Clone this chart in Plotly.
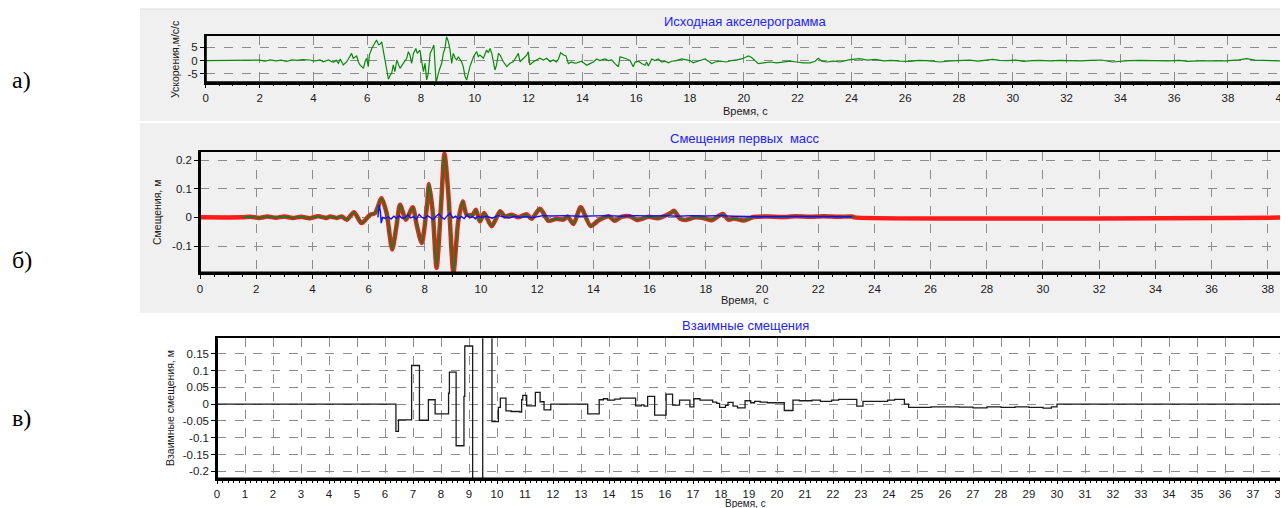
import plotly.graph_objects as go

# the page body adds an 8 px margin: the figure is drawn 8 px right/down of the window corner
PAGE_OFFSET = 8
W, H = 1288 - PAGE_OFFSET, 508 - PAGE_OFFSET

# ---------------- data ----------------
# a) accelerogram: (time, s ; acceleration, m/s/s)
acc_points = [
    (0.0, 0.0), (0.5, 0.05), (1.0, 0.0), (1.5, -0.05), (1.8, 0.1), (2.0, 0.2), (2.2, -0.2), (2.4, 0.3),
    (2.6, -0.1), (2.8, 0.2), (3.0, -0.3), (3.2, 0.3), (3.4, 0.1), (3.6, 0.4), (3.87, 0.25), (4.0, -0.1),
    (4.12, 0.0), (4.25, 0.3), (4.37, -0.4), (4.56, 0.25), (4.65, -0.2), (4.74, -0.6), (4.85, 0.1),
    (4.93, -1.0), (5.0, 0.6), (5.11, -1.6), (5.24, -0.4), (5.36, 1.5), (5.42, 2.75), (5.48, 0.9),
    (5.61, 1.75), (5.67, -0.4), (5.73, -1.6), (5.86, -2.9), (5.92, -0.4), (5.98, 0.9), (6.04, -2.25),
    (6.08, 2.1), (6.17, 4.6), (6.29, 6.75), (6.35, 7.75), (6.42, 6.0), (6.48, 6.25), (6.54, 7.1),
    (6.60, 4.0), (6.70, -1.0), (6.79, -7.0), (6.85, -5.5), (6.91, -4.75), (6.97, -1.6), (7.03, -4.1),
    (7.10, 0.25), (7.16, -1.6), (7.22, -2.9), (7.34, -1.0), (7.47, 0.9), (7.53, 3.4), (7.59, 2.1),
    (7.65, -1.0), (7.72, 2.75), (7.81, 4.6), (7.86, 2.75), (7.96, 4.0), (8.03, -1.0), (8.09, -4.1),
    (8.15, -1.0), (8.21, -7.25), (8.27, -4.75), (8.34, 2.75), (8.40, 4.0), (8.48, 5.9), (8.56, -8.25),
    (8.61, -6.0), (8.68, -3.5), (8.77, -1.0), (8.83, 2.75), (8.89, 4.6), (8.95, 9.0), (9.02, 7.1),
    (9.08, 4.0), (9.14, -1.0), (9.20, 2.75), (9.27, 1.0), (9.33, 0.25), (9.39, 1.5), (9.51, -0.4),
    (9.57, -2.25), (9.64, -6.0), (9.70, -7.25), (9.76, -4.75), (9.82, -2.25), (9.95, 1.5), (10.01, 2.75),
    (10.07, 3.4), (10.13, 1.5), (10.19, 2.1), (10.32, 0.9), (10.44, 4.0), (10.50, 3.0), (10.57, 4.6),
    (10.63, 2.75), (10.69, -1.0), (10.75, -3.5), (10.81, -1.6), (10.88, 2.75), (10.94, 2.1),
    (11.06, -0.4), (11.19, -2.25), (11.31, -1.0), (11.43, -0.4), (11.56, 1.5), (11.62, 2.75),
    (11.68, -0.4), (11.80, 0.9), (11.93, 2.1), (11.99, 3.4), (12.05, -1.6), (12.18, -0.4), (12.30, 0.25),
    (12.42, 0.9), (12.55, 0.25), (12.67, 0.9), (12.80, -0.4), (12.92, 0.3), (13.04, -0.5), (13.11, 0.65),
    (13.19, 3.0), (13.29, 2.2), (13.39, 1.8), (13.48, -1.1), (13.60, -0.5), (13.70, -0.9), (13.79, -0.8),
    (13.97, -0.2), (14.04, -0.8), (14.16, -1.7), (14.28, -1.1), (14.41, -0.5), (14.53, 0.65),
    (14.65, 0.05), (14.75, 0.4), (14.84, 0.65), (14.96, 0.05), (15.09, 0.3), (15.21, -1.1), (15.34, -2.3),
    (15.40, 1.5), (15.52, 1.2), (15.65, 0.65), (15.77, 0.05), (15.89, -2.3), (15.96, -0.5), (16.08, -0.2),
    (16.20, -1.1), (16.33, -1.7), (16.39, -0.5), (16.45, -2.0), (16.58, 0.65), (16.70, 0.05),
    (16.82, 0.65), (16.95, -0.5), (17.07, -0.2), (17.20, -0.8), (17.32, -0.2), (17.50, 0.05),
    (17.69, 0.65), (17.88, 0.4), (18.00, 0.05), (18.12, -0.8), (18.25, -0.2), (18.37, 0.05),
    (18.56, 0.65), (18.68, -0.2), (18.81, -1.1), (18.93, -0.5), (19.12, -0.2), (19.36, -0.5),
    (19.55, 0.05), (19.74, 0.3), (19.92, 0.65), (20.05, 1.2), (20.17, 1.8), (20.29, 1.2), (20.42, 0.05),
    (20.54, -1.1), (20.73, -0.8), (20.97, -0.5), (21.22, -0.8), (21.47, -0.5), (21.72, -0.2),
    (21.97, -0.5), (22.21, -0.8), (22.46, -0.8), (22.65, -0.2), (22.77, 0.9), (22.90, -0.2),
    (23.08, -0.5), (23.33, -0.2), (23.58, -0.5), (23.9, 0.3), (24.3, 0.75), (24.6, 0.2), (24.9, 0.5),
    (25.2, -0.1), (25.5, 0.1), (25.8, -0.2), (26.2, -0.25), (26.5, 0.1), (26.8, 0.0), (27.0, -0.3),
    (27.3, -0.5), (27.7, -0.1), (28.1, 0.0), (28.4, 0.2), (28.7, -0.2), (29.0, 0.1), (29.25, 0.5),
    (29.5, 0.1), (29.8, 0.0), (30.1, 0.2), (30.4, -0.25), (30.7, 0.0), (31.0, 0.1), (31.4, -0.1),
    (31.75, 0.1), (32.1, 0.0), (32.5, -0.1), (32.9, 0.1), (33.3, 0.25), (33.7, -0.5), (34.0, -0.2),
    (34.3, 0.0), (34.7, 0.15), (35.1, 0.1), (35.5, -0.1), (35.8, -0.1), (36.2, 0.1), (36.5, -0.25),
    (36.9, -0.05), (37.2, 0.0), (37.5, 0.1), (37.9, -0.1), (38.4, 0.3), (38.7, 0.75), (39.0, 0.2),
    (39.5, 0.0), (40.0, -0.1),
]

# b) displacements of the first masses (m)
disp_points = [
    (1.5, 0.0), (1.8, 0.002), (2.1, -0.002), (2.4, 0.003), (2.7, -0.001), (3.0, 0.003), (3.3, -0.002),
    (3.6, 0.002), (3.9, -0.003), (4.2, 0.004), (4.5, -0.002), (4.63, 0.003), (4.86, -0.002),
    (5.04, 0.003), (5.22, -0.008), (5.48, 0.018), (5.75, -0.02), (6.05, 0.009), (6.23, 0.015),
    (6.46, 0.067), (6.64, 0.015), (6.84, -0.112), (7.0, -0.025), (7.12, 0.044), (7.33, -0.008),
    (7.57, 0.035), (7.71, -0.025), (7.89, -0.089), (8.07, 0.033), (8.15, 0.116), (8.28, 0.021),
    (8.42, -0.176), (8.58, 0.044), (8.70, 0.223), (8.84, 0.079), (9.02, -0.193), (9.19, -0.014),
    (9.35, 0.055), (9.49, 0.009), (9.70, 0.009), (9.82, 0.027), (9.96, -0.014), (10.11, 0.015),
    (10.38, -0.031), (10.68, 0.021), (10.85, 0.003), (11.09, 0.009), (11.33, 0.0), (11.62, 0.011),
    (11.80, -0.005), (12.1, 0.03), (12.4, -0.012), (12.69, -0.005), (12.93, -0.008), (13.08, 0.003),
    (13.29, -0.023), (13.55, 0.035), (13.9, -0.03), (14.2, -0.009), (14.55, 0.004), (14.75, -0.012),
    (15.0, 0.002), (15.3, 0.004), (15.55, -0.009), (15.97, 0.002), (16.3, -0.003), (16.73, 0.014),
    (16.87, 0.023), (17.08, -0.004), (17.28, -0.009), (17.62, 0.0), (17.9, -0.002), (18.2, -0.01),
    (18.6, 0.012), (18.8, -0.008), (19.0, -0.004), (19.35, -0.011), (19.7, 0.001), (20.2, 0.003),
    (20.7, 0.001), (21.2, 0.004), (21.7, 0.002), (22.2, 0.004), (22.7, 0.002), (23.2, 0.003),
    (23.3, 0.0),
]
red_start, red_end = 0.0, 40.0

blue_points = [
    (6.33, 0.0), (6.38, 0.044), (6.42, 0.02), (6.45, -0.02), (6.5, 0.0), (6.6, -0.004), (6.7, 0.002),
    (6.8, -0.006), (6.9, 0.004), (7.0, -0.003), (7.1, 0.006), (7.2, -0.004), (7.3, 0.0), (7.4, 0.008),
    (7.5, -0.002), (7.6, 0.003), (7.7, -0.006), (7.8, 0.01), (7.9, 0.0), (8.0, -0.004), (8.1, 0.006),
    (8.2, 0.0), (8.3, -0.008), (8.4, 0.004), (8.5, 0.012), (8.6, 0.0), (8.7, -0.006), (8.8, 0.006),
    (8.9, 0.014), (9.0, -0.002), (9.1, 0.004), (9.2, -0.006), (9.3, 0.003), (9.4, -0.004), (9.5, 0.008),
    (9.6, -0.002), (9.7, 0.003), (9.8, -0.005), (9.9, 0.004), (10.0, 0.0), (10.2, 0.004), (10.4, -0.003),
    (10.6, 0.006), (10.8, 0.002), (11.0, -0.002), (11.2, 0.004), (11.4, 0.0), (11.6, 0.003),
    (11.8, -0.001), (12.0, 0.002), (12.2, 0.006), (12.5, 0.005), (13.0, 0.006), (13.5, 0.004),
    (14.0, 0.005), (14.5, 0.006), (15.0, 0.004), (15.5, 0.006), (16.0, 0.005), (16.5, 0.006),
    (17.0, 0.004), (17.5, 0.006), (18.0, 0.005), (18.5, 0.006), (19.0, 0.004), (19.5, 0.003),
    (20.0, 0.002), (21.0, 0.003), (22.0, 0.002), (23.2, 0.002),
]

# c) mutual displacements (m), step function: value holds until next time
mut_points = [
    (0.0, 0.0), (6.39, -0.081), (6.48, -0.047), (6.95, 0.115), (7.23, -0.048), (7.55, 0.013),
    (7.79, -0.029), (8.27, 0.033), (8.30, 0.095), (8.54, -0.124), (8.82, 0.023), (8.85, 0.173),
    (9.13, -0.30), (9.49, 0.30), (9.82, -0.052), (10.05, -0.010), (10.12, 0.018), (10.32, -0.020),
    (10.5, -0.022), (10.82, -0.024), (10.88, 0.013), (10.92, 0.026), (11.06, -0.005), (11.37, 0.035),
    (11.54, 0.007), (11.68, -0.017), (11.92, 0.0), (13.24, -0.029), (13.65, 0.013), (13.8, 0.016),
    (13.95, 0.012), (14.2, 0.015), (14.4, 0.018), (14.95, -0.005), (15.15, -0.002), (15.25, -0.006),
    (15.38, 0.023), (15.63, -0.033), (16.04, 0.030), (16.27, -0.003), (16.52, 0.012), (16.89, -0.008),
    (17.03, 0.016), (17.25, 0.012), (17.7, 0.006), (17.85, 0.002), (17.95, -0.010), (18.16, -0.004),
    (18.25, 0.005), (18.43, -0.006), (18.59, -0.011), (18.86, 0.010), (19.06, 0.004), (19.2, 0.008),
    (19.4, 0.006), (19.65, 0.004), (20.26, -0.019), (20.57, 0.012), (20.8, 0.010), (21.25, 0.012),
    (21.55, 0.008), (21.95, 0.012), (22.2, 0.014), (22.85, -0.006), (23.07, 0.008), (23.95, 0.012),
    (24.2, 0.014), (24.55, 0.0), (24.7, -0.010), (25.5, -0.008), (26.5, -0.009), (27.0, -0.011),
    (27.5, -0.008), (28.0, -0.010), (28.5, -0.008), (29.0, -0.010), (29.5, -0.012), (29.8, -0.008),
    (30.0, 0.0), (40.0, 0.0),
]

acc_ticks = [-5, 0, 5]
acc_ticktext = ["-5", "0", "5"]
disp_ticks = [-0.1, 0, 0.1, 0.2]
disp_ticktext = ["-0.1", "0", "0.1", "0.2"]
mut_ticks = [-0.2, -0.15, -0.1, -0.05, 0, 0.05, 0.1, 0.15]
mut_ticktext = ["-0.2", "-0.15", "-0.1", "-0.05", "0", "0.05", "0.1", "0.15"]

titles = ["Исходная акселерограмма", "Смещения первых  масс", "Взаимные смещения"]
ytitles = ["Ускорения,м/с/с", "Смещения, м", "Взаимные смещения, м"]
xtitles = ["Время, с", "Время,  с", "Время, с"]
panel_labels = ["а)", "б)", "в)"]

# ---------------- figure ----------------
def fx(px):
    """window pixel -> paper fraction"""
    return (px - PAGE_OFFSET) / W


def fy(py):
    return 1 - (py - PAGE_OFFSET) / H


acc_t = [p[0] for p in acc_points]
acc_v = [p[1] for p in acc_points]
d_t = [p[0] for p in disp_points]
d_v = [p[1] for p in disp_points]
red_t = [red_start] + d_t + [red_end]
red_v = [0.0] + d_v + [0.0]
b_t = [p[0] for p in blue_points]
b_v = [p[1] for p in blue_points]
m_t = [p[0] for p in mut_points]
m_v = [p[1] for p in mut_points]

fig = go.Figure()
fig.add_trace(go.Scatter(x=acc_t, y=acc_v, mode="lines", line=dict(color="#0a8a0a", width=1.2),
                         xaxis="x", yaxis="y", showlegend=False, hoverinfo="skip"))
fig.add_trace(go.Scatter(x=red_t, y=red_v, mode="lines",
                         line=dict(color="#ff1a1a", width=4.5, shape="spline", smoothing=0.7),
                         xaxis="x2", yaxis="y2", showlegend=False, hoverinfo="skip"))
fig.add_trace(go.Scatter(x=d_t, y=d_v, mode="lines",
                         line=dict(color="#1f7a1f", width=2.0, shape="spline", smoothing=0.7),
                         xaxis="x2", yaxis="y2", showlegend=False, hoverinfo="skip"))
fig.add_trace(go.Scatter(x=b_t, y=b_v, mode="lines", line=dict(color="#1010ff", width=1.4),
                         xaxis="x2", yaxis="y2", showlegend=False, hoverinfo="skip"))
fig.add_trace(go.Scatter(x=m_t, y=m_v, mode="lines", line=dict(color="#1a1a1a", width=1.3, shape="hv"),
                         xaxis="x3", yaxis="y3", showlegend=False, hoverinfo="skip"))

tickfont = dict(family="Liberation Sans, Arial, sans-serif", size=11.5, color="#1a1a1a")
grid = dict(showgrid=True, gridcolor="#8c8c8c", griddash="dash", gridwidth=1, zeroline=False,
            showline=True, linecolor="#000000", linewidth=1.5, mirror=True, tickfont=tickfont,
            ticks="outside", tickcolor="#000000", ticklabeloverflow="allow")

fig.update_layout(
    width=W, height=H, margin=dict(l=0, r=0, t=0, b=0, autoexpand=False),
    paper_bgcolor="#ffffff", plot_bgcolor="rgba(0,0,0,0)", showlegend=False,
    xaxis=dict(domain=[fx(205.8), fx(1285)], range=[0, 40.12], anchor="y", ticklen=4,
               tickvals=list(range(0, 41, 2)),
               minor=dict(ticks="outside", dtick=0.5, ticklen=2, tickcolor="#000", showgrid=False), **grid),
    yaxis=dict(domain=[fy(82.7), fy(36)], range=[-8.3, 9.3], anchor="x", ticklen=4,
               tickvals=acc_ticks, ticktext=acc_ticktext, **grid),
    xaxis2=dict(domain=[fx(200), 1.0], range=[0, 38.72], anchor="y2", ticklen=4,
                tickvals=list(range(0, 41, 2)),
                minor=dict(ticks="outside", dtick=0.5, ticklen=2, tickcolor="#000", showgrid=False), **grid),
    yaxis2=dict(domain=[fy(273), fy(151.7)], range=[-0.194, 0.229], anchor="x2", ticklen=4,
                tickvals=disp_ticks, ticktext=disp_ticktext, **grid),
    xaxis3=dict(domain=[fx(217), 1.0], range=[0, 38.25], anchor="y3", ticklen=3,
                tickvals=list(range(0, 41, 1)),
                minor=dict(ticks="outside", dtick=0.2, ticklen=2, tickcolor="#000", showgrid=False), **grid),
    yaxis3=dict(domain=[fy(479), fy(338.3)], range=[-0.223, 0.196], anchor="x3", ticklen=4,
                tickvals=mut_ticks, ticktext=mut_ticktext, **grid),
)

shapes = [
    dict(type="rect", xref="paper", yref="paper", x0=fx(140), x1=1, y0=fy(121), y1=fy(9),
         fillcolor="#f0f0f0", line=dict(width=0), layer="below"),
    dict(type="rect", xref="paper", yref="paper", x0=fx(140), x1=1, y0=fy(313), y1=fy(123),
         fillcolor="#f0f0f0", line=dict(width=0), layer="below"),
    dict(type="line", xref="paper", yref="paper", x0=fx(140), x1=1, y0=fy(9), y1=fy(9),
         line=dict(color="#dcdcdc", width=1)),
]
for xr, yr in (("x", "y"), ("x2", "y2"), ("x3", "y3")):
    shapes.append(dict(type="line", xref=xr + " domain", yref=yr + " domain", x0=0, x1=1, y0=0, y1=0,
                       line=dict(color="#000000", width=3)))
    shapes.append(dict(type="line", xref=xr + " domain", yref=yr + " domain", x0=0, x1=0, y0=0, y1=1,
                       line=dict(color="#000000", width=2)))
fig.update_layout(shapes=shapes)

title_font = dict(family="Liberation Sans, Arial, sans-serif", size=13, color="#2323ff")
ann = []
for txt, py in zip(titles, (21, 138, 325)):
    ann.append(dict(text=txt, x=fx(745), y=fy(py), xref="paper", yref="paper", showarrow=False,
                    font=title_font, xanchor="center", yanchor="middle"))
for txt, py, fs in zip(xtitles, (111, 300, 503), (11, 11, 10)):
    ann.append(dict(text=txt, x=fx(745), y=fy(py), xref="paper", yref="paper", showarrow=False,
                    font=dict(family="Liberation Sans, Arial, sans-serif", size=fs, color="#1a1a1a"),
                    xanchor="center", yanchor="middle"))
for txt, px, py in zip(ytitles, (175, 157, 170), (60, 213, 408)):
    ann.append(dict(text=txt, x=fx(px), y=fy(py), xref="paper", yref="paper", showarrow=False,
                    font=dict(family="Liberation Sans, Arial, sans-serif", size=10.5, color="#1a1a1a"),
                    textangle=-90, xanchor="center", yanchor="middle"))
for txt, py in zip(panel_labels, (80, 260, 418)):
    ann.append(dict(text=txt, x=fx(10), y=fy(py), xref="paper", yref="paper", showarrow=False,
                    font=dict(family="Liberation Serif, Times New Roman, serif", size=24, color="#000000"),
                    xanchor="left", yanchor="middle"))
fig.update_layout(annotations=ann)

fig.write_html("out.html")
